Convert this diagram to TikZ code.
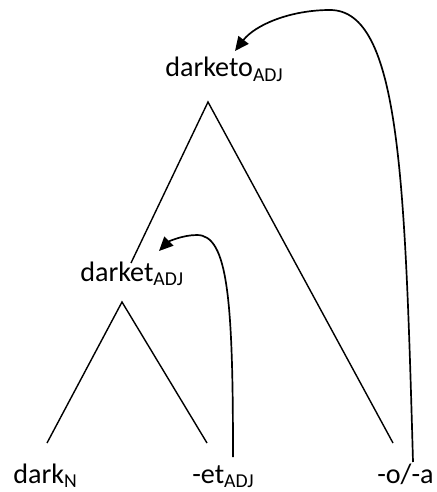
\documentclass[tikz,border=0pt]{standalone}
\usepackage{fontspec}
\setmainfont{Carlito}
\usetikzlibrary{arrows.meta}

\begin{document}
\begin{tikzpicture}[x=0.025cm,y=-0.025cm,>={Triangle[length=10pt,width=9pt]},
  word/.style={inner sep=0pt,anchor=base west,font=\fontsize{20}{24}\selectfont},
  branch/.style={line width=1pt},
  move/.style={line width=1.2pt,->}]
\useasboundingbox (0,0) rectangle (436,492);
% words
\node[word](darketo) at (165,77){darketo\textsubscript{ADJ}};
\node[word](darket) at (80,281){darket\textsubscript{ADJ}};
\node[word](dark) at (13,483){dark\textsubscript{N}};
\node[word](et) at (192,483){-et\textsubscript{ADJ}};
\node[word](oa) at (377,483){-o/-a};
% tree
\coordinate (top) at (208,102);
\coordinate (mid) at (122,302);
\coordinate (darketup) at (131,263);
\coordinate (darkup) at (47,443);
\coordinate (etup) at (207,443);
\coordinate (oaup) at (393,443);
\draw[branch](darketup)--(top)--(oaup);
\draw[branch](darkup)--(mid)--(etup);
% movement arrows
\coordinate (etfrom) at (233,457);
\coordinate (oafrom) at (413,462);
\coordinate (darketin) at (159,251);
\coordinate (darketoin) at (235,51);
\draw[move](oafrom) .. controls (405,180) and (400,10) .. (330,10)
  .. controls (290,10) and (255,25) .. (darketoin);
\draw[move](etfrom) .. controls (233,300) and (228,235) .. (197,235)
  .. controls (182,235) and (168,242) .. (darketin);
\end{tikzpicture}
\end{document}
